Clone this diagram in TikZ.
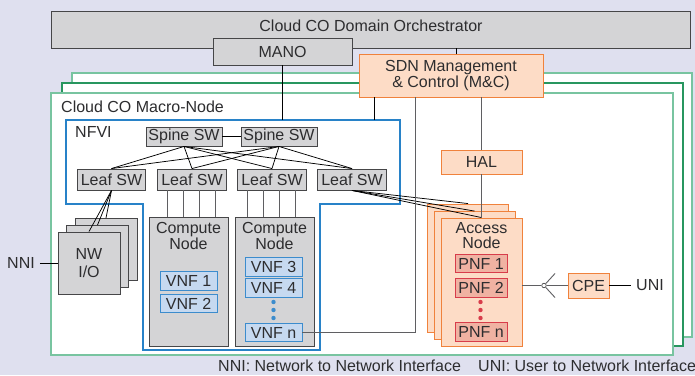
\documentclass[tikz,border=0pt]{standalone}
\usepackage{fontspec}
\setmainfont{Liberation Sans}
\usetikzlibrary{calc}

\definecolor{bgcol}{RGB}{223,224,239}
\definecolor{boxgray}{RGB}{212,212,214}
\definecolor{edgegray}{RGB}{70,70,72}
\definecolor{txtcol}{RGB}{45,45,47}
\definecolor{linegray}{RGB}{95,95,98}
\definecolor{frameLight}{RGB}{120,196,160}
\definecolor{frameDark}{RGB}{40,150,95}
\definecolor{nfviblue}{RGB}{40,130,200}
\definecolor{orangefill}{RGB}{253,220,198}
\definecolor{orangeedge}{RGB}{240,130,60}
\definecolor{vnffill}{RGB}{198,217,240}
\definecolor{vnfedge}{RGB}{60,140,205}
\definecolor{pnffill}{RGB}{240,178,162}
\definecolor{pnfedge}{RGB}{216,60,74}

\newcommand\dfont{\fontsize{16}{16.5}\selectfont}
\newcommand\tightfont{\fontsize{16}{14.5}\selectfont}

\begin{document}
\begin{tikzpicture}[x=1pt,y=-1pt,
  box/.style={draw=edgegray, line width=0.9pt, inner sep=0pt, text=txtcol, font=\dfont, align=center},
  graybox/.style={box, fill=boxgray},
  orangebox/.style={box, draw=orangeedge, fill=orangefill},
  vnfbox/.style={box, draw=vnfedge, fill=vnffill, minimum width=57pt, minimum height=18.5pt},
  pnfbox/.style={box, draw=pnfedge, fill=pnffill, minimum width=52pt, minimum height=18.5pt},
  txt/.style={text=txtcol, font=\dfont, inner sep=0pt, align=center},
  leafbox/.style={graybox, minimum width=68.5pt, minimum height=21pt},
  spinebox/.style={graybox, minimum width=76pt, minimum height=19pt},
  nwbox/.style={graybox, minimum width=62pt, minimum height=62pt},
  accbox/.style={orangebox, minimum width=81pt, minimum height=128pt},
  compbox/.style={graybox, minimum width=79pt, minimum height=129pt},
  link/.style={draw=black, line width=0.75pt},
  glink/.style={draw=linegray, line width=0.9pt},
  frame/.style={line width=1.2pt, fill=white}
]
\useasboundingbox (0,0) rectangle (695,375);
\fill[bgcol] (0,0) rectangle (695,375);

% stacked macro-node frames
\draw[frame, draw=frameLight] (72,73) rectangle (692,337);
\draw[frame, draw=frameDark] (62,83) rectangle (683,346);
\draw[frame, draw=frameLight] (51,93) rectangle (673,355);
\node[txt, anchor=west] at (61,107) {Cloud CO Macro-Node};

% NFVI outline
\draw[nfviblue, line width=1.1pt] (66,120) coordinate (nfvi) -- (400,120) -- (400,204)
  -- (320,204) -- (320,350) -- (143,350) -- (143,204) -- (66,204) -- cycle;
\node[txt, anchor=west] at (75,132) {NFVI};

% orchestration layer
\node[graybox, minimum width=639pt, minimum height=37pt] (orch) at (370.5,29.5) {};
\node[txt] at (371,26) {Cloud CO Domain Orchestrator};
\node[graybox, minimum width=139pt, minimum height=27pt] (mano) at (282.5,51.5) {MANO};
\draw[link] (orch.south -| 456,0) -- (456,54);
\node[orangebox, minimum width=184pt, minimum height=43pt] (sdn) at (451,75.5) {SDN Management\\[-0.5pt]\& Control (M\&C)};

% switches
\node[spinebox] (sp1) at (184,136.5) {Spine SW};
\node[spinebox] (sp2) at (279,136.5) {Spine SW};
\node[leafbox] (lf1) at (111.5,179.5) {Leaf SW};
\node[leafbox] (lf2) at (192,179.5) {Leaf SW};
\node[leafbox] (lf3) at (272,179.5) {Leaf SW};
\node[leafbox] (lf4) at (352,179.5) {Leaf SW};
\draw[link] (sp1) -- (sp2);
\foreach \s in {sp1,sp2}
  \foreach \l in {lf1,lf2,lf3,lf4}
    \draw[link] (\s.south) -- (\l.north);

% network I/O stack
\node[nwbox] (nw3) at (106,249.5) {};
\node[nwbox] (nw2) at (97.5,256.5) {};
\node[nwbox] (nw1) at (89,263) {NW\\[1pt]I/O};
\foreach \n in {nw1,nw2,nw3}
  \draw[link] (lf1.south) -- (\n.north);
\node[txt] (nni) at (21,263) {NNI};
\draw[link] ([xshift=5pt]nni.east) -- (nw1.west);

% compute nodes
\node[compbox] (cn1) at (188.5,281.5) {};
\node[compbox] (cn2) at (274.5,281.5) {};
\node[txt, font=\tightfont, anchor=north] at ($(cn1.north)+(0,6)$) {Compute\\Node};
\node[txt, font=\tightfont, anchor=north] at ($(cn2.north)+(0,6)$) {Compute\\Node};
\foreach \x in {167,183,199,215}
  \draw[glink, line width=0.8pt] (lf2.south -| \x,0) -- (cn1.north -| \x,0);
\foreach \x in {247,263,279,295}
  \draw[glink, line width=0.8pt] (lf3.south -| \x,0) -- (cn2.north -| \x,0);

\node[vnfbox] (vnf1) at (188.5,281) {VNF 1};
\node[vnfbox] (vnf2) at (188.5,303.5) {VNF 2};
\node[vnfbox] (vnf3) at (273.5,267) {VNF 3};
\node[vnfbox] (vnf4) at (273.5,288) {VNF 4};
\node[vnfbox] (vnfn) at (273.5,332.5) {VNF n};
\foreach \y in {302,310,318}
  \fill[vnfedge] (273.5,\y) circle (2.2pt);

% hardware abstraction and access nodes
\node[orangebox, minimum width=81pt, minimum height=24pt] (hal) at (481.5,162) {HAL};
\node[accbox] (acc3) at (468,268) {};
\node[accbox] (acc2) at (474.5,275.5) {};
\node[accbox] (acc1) at (481.5,282) {};
\node[txt, font=\tightfont, anchor=north] at ($(acc1.north)+(0,5)$) {Access\\Node};
\node[pnfbox] (pnf1) at (481,263.5) {PNF 1};
\node[pnfbox] (pnf2) at (481,288) {PNF 2};
\node[pnfbox] (pnfn) at (481,332) {PNF n};
\foreach \y in {302,310,318}
  \fill[pnfedge] (480.5,\y) circle (2.2pt);
\foreach \a in {acc1,acc2,acc3}
  \draw[link] (lf4.south) -- (\a.north);

% management connections
\draw[link] (mano.south) -- (mano.south |- nfvi);
\draw[link] (sdn.south -| 374,0) -- (374,0 |- nfvi);
\draw[glink] (vnfn.east) -| (sdn.south -| 415,0);
\draw[glink] (sdn.south -| hal.north) -- (hal.north);
\draw[glink] (hal.south) -- (acc1.north);

% customer side
\node[orangebox, minimum width=41pt, minimum height=25pt] (cpe) at (588.5,285.5) {CPE};
\node[draw=edgegray, fill=white, circle, inner sep=1.6pt, line width=0.7pt] (split) at (544,285.5) {};
\draw[glink] (acc1.east |- cpe.west) -- (split.west);
\draw[glink] (split.east) -- (cpe.west);
\draw[glink] (split) -- ++(11,-12);
\draw[glink] (split) -- ++(11,12);
\node[txt] (uni) at (650,285.5) {UNI};
\draw[link] (cpe.east) -- ([xshift=-5pt]uni.west);

% legend
\node[txt, anchor=west] at (218,366) {NNI: Network to Network Interface};
\node[txt, anchor=west] at (478,366) {UNI: User to Network Interface};
\end{tikzpicture}
\end{document}
